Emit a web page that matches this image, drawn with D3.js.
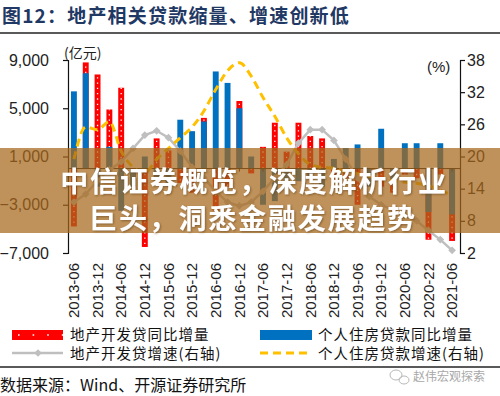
<!DOCTYPE html>
<html>
<head>
<meta charset="utf-8">
<script src="https://cdn.jsdelivr.net/npm/d3@7"></script>
<style>
  body { margin: 0; background: #fff; }
  svg text { font-family: "Liberation Sans", Arial, sans-serif; }
  .cjk { font-family: "Noto Sans CJK SC", sans-serif; }
</style>
</head>
<body>
<script>
// Data

const quarters = [
  "2013-06", "2013-09", "2013-12", "2014-03", "2014-06", "2014-09", "2014-12",
  "2015-03", "2015-06", "2015-09", "2015-12", "2016-03", "2016-06", "2016-09",
  "2016-12", "2017-03", "2017-06", "2017-09", "2017-12", "2018-03", "2018-06",
  "2018-09", "2018-12", "2019-03", "2019-06", "2019-09", "2019-12", "2020-03",
  "2020-06", "2020-09", "2020-12", "2021-03", "2021-06",
];

const tickLabels = [
  "2013-06", "2013-12", "2014-06", "2014-12", "2015-06", "2015-12", "2016-06",
  "2016-12", "2017-06", "2017-12", "2018-06", "2018-12", "2019-06", "2019-12",
  "2020-06", "2020-22", "2021-06",
];

// 地产开发贷同比增量 (亿元)
const devLoanIncrease = [
  -4800, 8800, 7800, 4900, 6700, -1000, -6500, 2500, 1500, -1200, -2000,
  4200, -3500, -1500, 5600, -400, 1800, 3800, 1400, 3800, 2700, 2500,
  -1000, -800, -3000, -1000, -1500, -2000, -500, -800, -5900, -500, -6000,
];

// 个人住房贷款同比增量 (亿元)
const mortgageIncrease = [
  6400, 7900, -1500, 1800, -3500, -1500, 1000, -1000, -1500, 4050, 3100,
  3900, 8050, 7100, 5000, 1000, -3000, -2700, -1500, -1050, -800, -1500,
  800, 1700, 2000, -1500, 3300, -1200, 2100, 2100, -3600, 2100, -3800,
];

// 地产开发贷增速 (%)
const devLoanGrowth = [
  11.5, 13.0, 15.5, 17.5, 19.0, 21.5, 24.0, 24.8, 23.5, 21.0, 18.0,
  16.0, 13.5, 11.5, 10.8, 11.5, 13.5, 16.0, 18.5, 22.5, 25.0, 25.0,
  23.0, 19.5, 16.0, 12.5, 11.0, 10.0, 9.0, 8.0, 6.2, 4.5, 2.5,
];

// 个人住房贷款增速 (%)
const mortgageGrowth = [
  19.5, 25.5, 25.0, 26.5, 21.0, 18.0, 17.0, 19.5, 21.5, 23.5, 25.5,
  28.5, 32.5, 36.0, 37.5, 35.0, 31.0, 27.5, 23.5, 20.5, 18.5, 18.0,
  17.8, 17.2, 16.8, 16.3, 15.8, 15.5, 15.2, 15.0, 14.6, 13.7, 12.8,
];

const leftTicks = [-7000, -3000, 1000, 5000, 9000];
const rightTicks = [2, 8, 14, 20, 26, 32, 38];

// Measurements

const width = 500;
const height = 396;
const plotLeft = 68;
const plotRight = 460;
const plotTop = 60;
const plotBottom = 253;

const svg = d3
  .select("body")
  .append("svg")
  .attr("width", width)
  .attr("height", height)
  .attr("viewBox", `0 0 ${width} ${height}`);

const defs = svg.append("defs");
const shadow = defs.append("filter").attr("id", "shadow");
shadow
  .append("feDropShadow")
  .attr("dx", 1)
  .attr("dy", 1)
  .attr("stdDeviation", 1)
  .attr("flood-color", "#5a3a10")
  .attr("flood-opacity", 0.6);

// Title

svg
  .append("text")
  .attr("class", "cjk")
  .attr("x", 2)
  .attr("y", 23)
  .attr("font-size", 19)
  .attr("font-weight", "bold")
  .attr("letter-spacing", 1.2)
  .attr("fill", "#1F3864")
  .text("图12：地产相关贷款缩量、增速创新低");

svg
  .append("line")
  .attr("x1", 0)
  .attr("x2", width)
  .attr("y1", 33)
  .attr("y2", 33)
  .attr("stroke", "#222")
  .attr("stroke-width", 1.5);

// Scales

const x = d3
  .scaleBand()
  .domain(quarters)
  .range([plotLeft, plotRight - 2])
  .paddingInner(0.5)
  .paddingOuter(0.25);

const yLeft = d3
  .scaleLinear()
  .domain([-7000, 9000])
  .range([plotBottom, plotTop]);

const yRight = d3
  .scaleLinear()
  .domain([2, 38])
  .range([plotBottom, plotTop]);

const cx = (d) => x(d) + x.bandwidth() / 2;

// Axes

const leftAxis = svg
  .append("g")
  .attr("transform", `translate(${plotLeft},0)`)
  .call(
    d3
      .axisLeft(yLeft)
      .tickValues(leftTicks)
      .tickFormat(d3.format(","))
      .tickSize(5)
      .tickPadding(14)
  );

const rightAxis = svg
  .append("g")
  .attr("transform", `translate(${plotRight},0)`)
  .call(d3.axisRight(yRight).tickValues(rightTicks).tickSize(5).tickPadding(2));

[leftAxis, rightAxis].forEach((axis) => {
  axis.selectAll("path, line").attr("stroke", "#111").attr("stroke-width", 1.2);
  axis.selectAll("text").attr("font-size", 16).attr("fill", "#222");
});

// Bars (red behind, blue on top)

const bars = svg.append("g");

bars
  .selectAll(".dev")
  .data(quarters)
  .enter()
  .append("rect")
  .attr("class", "dev")
  .attr("x", (d) => x(d))
  .attr("width", x.bandwidth())
  .attr("y", (d, i) => yLeft(Math.max(0, devLoanIncrease[i])))
  .attr("height", (d, i) => Math.abs(yLeft(devLoanIncrease[i]) - yLeft(0)))
  .attr("fill", "#FF0000");

bars
  .selectAll(".devDots")
  .data(quarters)
  .enter()
  .append("line")
  .attr("class", "devDots")
  .attr("x1", cx)
  .attr("x2", cx)
  .attr("y1", yLeft(0))
  .attr("y2", (d, i) => yLeft(devLoanIncrease[i]))
  .attr("stroke", "#fff")
  .attr("stroke-width", 1.3)
  .attr("stroke-dasharray", "1.3 4");

bars
  .selectAll(".mort")
  .data(quarters)
  .enter()
  .append("rect")
  .attr("class", "mort")
  .attr("x", (d) => x(d))
  .attr("width", x.bandwidth())
  .attr("y", (d, i) => yLeft(Math.max(0, mortgageIncrease[i])))
  .attr("height", (d, i) => Math.abs(yLeft(mortgageIncrease[i]) - yLeft(0)))
  .attr("fill", "#0070C0");

// Category axis on the zero line

const zeroAxis = svg
  .append("g")
  .attr("transform", `translate(0,${yLeft(0)})`)
  .call(
    d3
      .axisBottom(x)
      .tickValues(quarters.filter((d, i) => i % 2 === 0))
      .tickSize(3)
      .tickSizeOuter(0)
      .tickFormat("")
  );
zeroAxis.select(".domain").attr("d", `M${plotLeft},0H${plotRight}`);
zeroAxis.selectAll("path, line").attr("stroke", "#111").attr("stroke-width", 1);

// Category labels at the bottom

const labelAxis = svg
  .append("g")
  .attr("transform", "translate(0,263)")
  .call(
    d3
      .axisBottom(x)
      .tickValues(quarters.filter((d, i) => i % 2 === 0))
      .tickFormat((d, i) => tickLabels[i])
      .tickSize(0)
  );
labelAxis.select(".domain").remove();
labelAxis
  .selectAll("text")
  .attr("font-size", 15)
  .attr("fill", "#222")
  .attr("text-anchor", "end")
  .attr("transform", "rotate(-90)")
  .attr("x", 0)
  .attr("y", 0)
  .attr("dy", "0.35em");

// Lines

const devLine = d3
  .line()
  .x((d) => cx(d))
  .y((d, i) => yRight(devLoanGrowth[i]));

svg
  .append("path")
  .datum(quarters)
  .attr("d", devLine)
  .attr("fill", "none")
  .attr("stroke", "#BFBFBF")
  .attr("stroke-width", 2.5);

svg
  .append("g")
  .selectAll("path")
  .data(quarters)
  .enter()
  .append("path")
  .attr("d", d3.symbol(d3.symbolSquare, 30))
  .attr("transform", (d, i) => `translate(${cx(d)},${yRight(devLoanGrowth[i])}) rotate(45)`)
  .attr("fill", "#BFBFBF");

const mortLine = d3
  .line()
  .x((d) => cx(d))
  .y((d, i) => yRight(mortgageGrowth[i]))
  .curve(d3.curveMonotoneX);

svg
  .append("path")
  .datum(quarters)
  .attr("d", mortLine)
  .attr("fill", "none")
  .attr("stroke", "#FFC000")
  .attr("stroke-width", 3)
  .attr("stroke-dasharray", "8 5");

// Unit labels

svg
  .append("text")
  .attr("class", "cjk")
  .attr("x", 64)
  .attr("y", 58)
  .attr("font-size", 14)
  .attr("fill", "#222")
  .text("(亿元)");

svg
  .append("text")
  .attr("x", 427)
  .attr("y", 72)
  .attr("font-size", 15)
  .attr("fill", "#222")
  .text("(%)");

// Legend

const legend = svg.append("g");
const legendText = (lx, ly, label) =>
  legend
    .append("text")
    .attr("class", "cjk")
    .attr("x", lx)
    .attr("y", ly)
    .attr("font-size", 14.5)
    .attr("letter-spacing", 1)
    .attr("fill", "#111")
    .text(label);

legend
  .append("rect")
  .attr("x", 12)
  .attr("y", 330)
  .attr("width", 51)
  .attr("height", 10)
  .attr("fill", "#FF0000");
legend
  .append("line")
  .attr("x1", 18)
  .attr("x2", 63)
  .attr("y1", 335)
  .attr("y2", 335)
  .attr("stroke", "#fff")
  .attr("stroke-width", 1.6)
  .attr("stroke-dasharray", "1.6 13");
legendText(70, 340, "地产开发贷同比增量");

legend
  .append("rect")
  .attr("x", 260)
  .attr("y", 330)
  .attr("width", 52)
  .attr("height", 10)
  .attr("fill", "#0070C0");
legendText(318, 340, "个人住房贷款同比增量");

legend
  .append("line")
  .attr("x1", 12)
  .attr("x2", 63)
  .attr("y1", 353)
  .attr("y2", 353)
  .attr("stroke", "#BFBFBF")
  .attr("stroke-width", 2.5);
legend
  .append("path")
  .attr("d", d3.symbol(d3.symbolSquare, 30))
  .attr("transform", "translate(38,353) rotate(45)")
  .attr("fill", "#BFBFBF");
legendText(70, 359, "地产开发贷增速(右轴)");

legend
  .append("line")
  .attr("x1", 260)
  .attr("x2", 312)
  .attr("y1", 353)
  .attr("y2", 353)
  .attr("stroke", "#FFC000")
  .attr("stroke-width", 3)
  .attr("stroke-dasharray", "8 5");
legendText(318, 359, "个人住房贷款增速(右轴)");

// Footer

svg
  .append("line")
  .attr("x1", 0)
  .attr("x2", width)
  .attr("y1", 367)
  .attr("y2", 367)
  .attr("stroke", "#222")
  .attr("stroke-width", 1.5);

svg
  .append("text")
  .attr("class", "cjk")
  .attr("x", 0)
  .attr("y", 391)
  .attr("font-size", 16)
  .attr("fill", "#111")
  .text("数据来源：Wind、开源证券研究所");

const mark = svg.append("g").attr("fill", "none").attr("stroke", "#b8b8b8").attr("stroke-width", 1);
mark.append("ellipse").attr("cx", 396).attr("cy", 375).attr("rx", 6).attr("ry", 5);
mark.append("ellipse").attr("cx", 404).attr("cy", 380).attr("rx", 5).attr("ry", 4);
svg
  .append("text")
  .attr("class", "cjk")
  .attr("x", 413)
  .attr("y", 381)
  .attr("font-size", 12)
  .attr("fill", "#a8a8a8")
  .text("赵伟宏观探索");

// Banner overlay

svg
  .append("rect")
  .attr("x", 0)
  .attr("y", 148)
  .attr("width", width)
  .attr("height", 85)
  .attr("fill", "rgb(168,104,28)")
  .attr("opacity", 0.72);

const banner = svg
  .append("g")
  .attr("font-size", 28)
  .attr("font-weight", "bold")
  .attr("letter-spacing", 1.8)
  .attr("fill", "#fff")
  .attr("text-anchor", "middle")
  .attr("filter", "url(#shadow)");

banner.append("text").attr("class", "cjk").attr("x", 254).attr("y", 192).text("中信证券概览，深度解析行业");
banner.append("text").attr("class", "cjk").attr("x", 253).attr("y", 229).text("巨头，洞悉金融发展趋势");
</script>
</body>
</html>
